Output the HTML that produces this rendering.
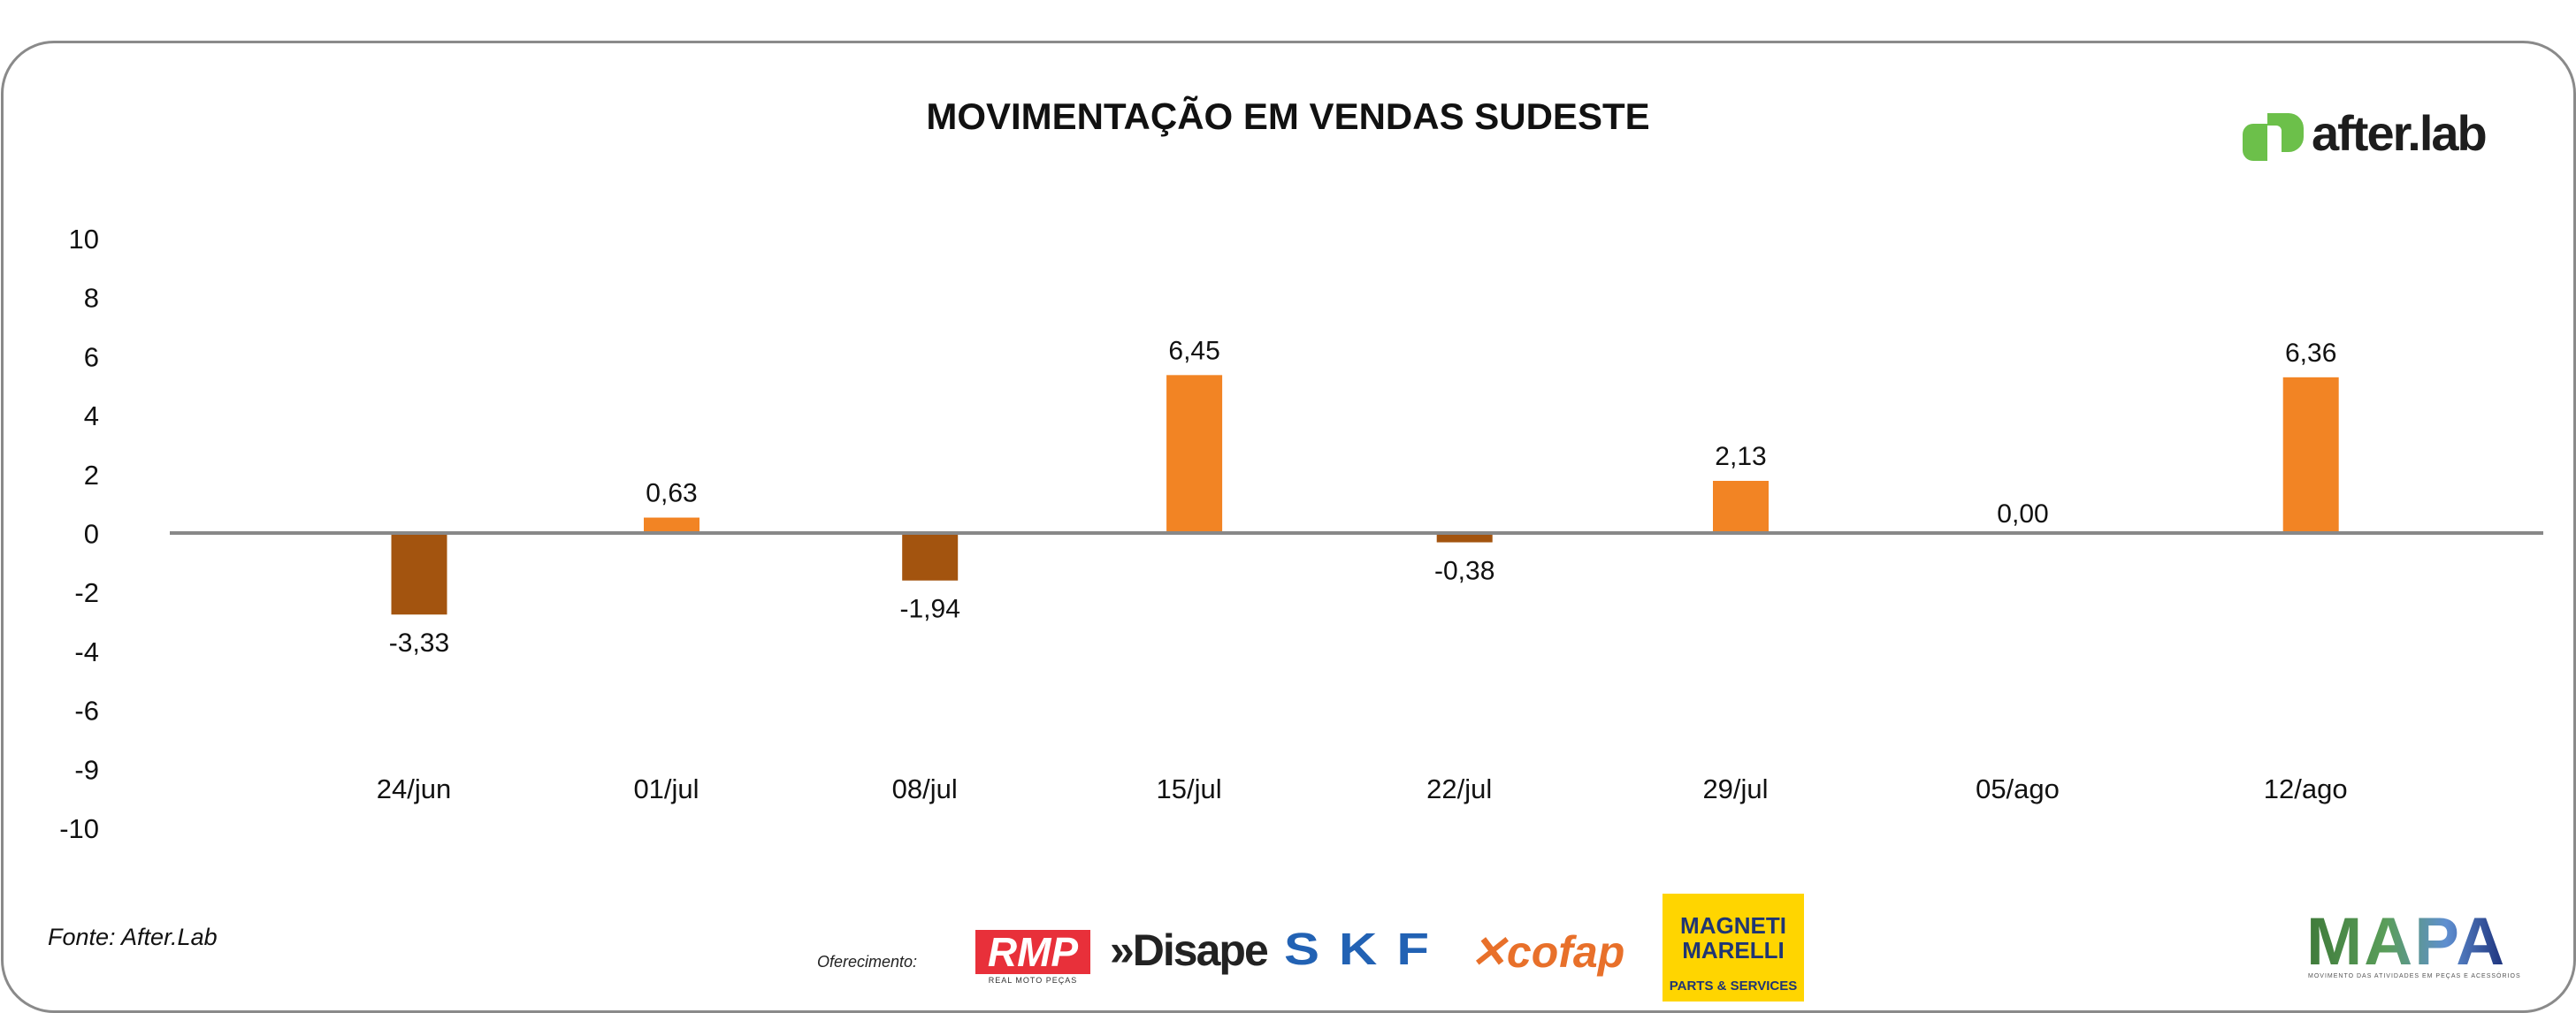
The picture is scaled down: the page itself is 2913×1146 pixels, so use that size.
<!DOCTYPE html>
<html><head><meta charset="utf-8"><style>
body{margin:0;width:2913px;height:1145px;background:#fff;overflow:hidden;font-family:"Liberation Sans",sans-serif;}
#frame{position:absolute;left:1px;top:46px;width:2906px;height:1094px;border:3px solid #8a8a8a;border-radius:60px;}
.abs{position:absolute;}
</style></head><body>
<div id="frame"></div>
<div class="abs" style="left:0;width:2913px;top:108px;text-align:center;font-weight:bold;font-size:42px;color:#111;">MOVIMENTAÇÃO EM VENDAS SUDESTE</div>

<div class="abs" style="left:2536px;top:128px;">
 <svg width="80" height="58"><path d="M28 0h24a17 17 0 0 1 17 17v10a17 17 0 0 1-17 17h-8V20a6 6 0 0 0-6-6h-10z" fill="#6cc04a"/><path d="M0 24a12 12 0 0 1 12-12h16v42H12A12 12 0 0 1 0 42z" fill="#6cc04a"/></svg>
</div>
<div class="abs" style="left:2614px;top:118px;font-size:56px;font-weight:bold;color:#1d1d1d;letter-spacing:-2px;">after.lab</div>

<svg id="chart" class="abs" style="left:0;top:0" width="2913" height="1145"></svg>

<div class="abs" style="left:54px;top:1045px;font-size:27px;font-style:italic;color:#111;">Fonte: After.Lab</div>
<div class="abs" style="left:924px;top:1078px;font-size:18px;font-style:italic;color:#222;">Oferecimento:</div>

<div class="abs" style="left:1103px;top:1052px;width:130px;height:50px;background:#e8303a;color:#fff;font-weight:bold;font-size:46px;line-height:50px;text-align:center;font-style:italic;">RMP</div>
<div class="abs" style="left:1103px;top:1104px;width:130px;text-align:center;font-size:9px;color:#333;letter-spacing:1px;">REAL MOTO PEÇAS</div>
<div class="abs" style="left:1255px;top:1046px;font-size:50px;font-weight:bold;color:#222;letter-spacing:-2px;">»Disape</div>
<div class="abs" style="left:1452px;top:1050px;font-size:60px;font-weight:bold;color:#2262b4;letter-spacing:22px;line-height:56px;transform:scaleY(0.85);transform-origin:top left;">SKF</div>
<div class="abs" style="left:1662px;top:1050px;font-size:50px;font-weight:bold;font-style:italic;color:#e8702a;line-height:54px;">✕cofap</div>
<div class="abs" style="left:1880px;top:1011px;width:160px;height:122px;background:#ffd500;color:#1f3574;text-align:center;font-weight:bold;">
 <div style="font-size:26px;line-height:28px;padding-top:22px;">MAGNETI<br>MARELLI</div>
 <div style="font-size:15px;margin-top:18px;">PARTS &amp; SERVICES</div>
</div>
<div class="abs" style="left:2608px;top:1028px;font-size:76px;font-weight:900;letter-spacing:2px;line-height:76px;background:linear-gradient(90deg,#3f7a3a,#5a9e5a 40%,#5f8fd0 70%,#1b2f7a);-webkit-background-clip:text;background-clip:text;color:transparent;">MAPA</div>
<div class="abs" style="left:2610px;top:1101px;font-size:7px;color:#555;letter-spacing:1px;">MOVIMENTO DAS ATIVIDADES EM PEÇAS E ACESSÓRIOS</div>

<script>
const categories=["24/jun","01/jul","08/jul","15/jul","22/jul","29/jul","05/ago","12/ago"];
const values=[-3.33,0.63,-1.94,6.45,-0.38,2.13,0.00,6.36];
const valueLabels=["-3,33","0,63","-1,94","6,45","-0,38","2,13","0,00","6,36"];
const yTickLabels=["10","8","6","4","2","0","-2","-4","-6","-9","-10"];

const NS="http://www.w3.org/2000/svg";
const svg=document.getElementById('chart');
const zeroY=603, unitPx=27.7;
function y(v){return zeroY-v*unitPx;}
function x(i){return 474+278.8*i+3.35*i*(i+1);}
const tickTop=270, tickStep=66.7;
function tickY(i){return tickTop+i*tickStep;}
function mk(tag,attrs){const e=document.createElementNS(NS,tag);for(const k in attrs)e.setAttribute(k,attrs[k]);svg.appendChild(e);return e;}

yTickLabels.forEach((t,i)=>{
 const e=mk('text',{x:112,y:tickY(i)+11,'text-anchor':'end','font-size':31,fill:'#111','font-family':'Liberation Sans, sans-serif'});
 e.textContent=t;
 
 
});

values.forEach((v,i)=>{
 const bw=63;
 const top=Math.min(y(v),zeroY), h=Math.abs(y(v)-zeroY);
 const r=mk('rect',{x:x(i)-bw/2,y:top,width:bw,height:h,fill:v<0?'#a3540f':'#f28424'});
 
 
 const ly=v<0?y(v)+42:(v===0?zeroY-12:y(v)-18);
 const l=mk('text',{x:x(i),y:ly,'text-anchor':'middle','font-size':30,fill:'#111','font-family':'Liberation Sans, sans-serif'});
 l.textContent=valueLabels[i];
 
 
 const c=mk('text',{x:x(i)-6,y:903,'text-anchor':'middle','font-size':31,fill:'#111','font-family':'Liberation Sans, sans-serif'});
 c.textContent=categories[i];
 
 
});

const ax=mk('line',{x1:192,x2:2876,y1:zeroY,y2:zeroY,stroke:'#888',"stroke-width":4});


</script>
</body></html>
